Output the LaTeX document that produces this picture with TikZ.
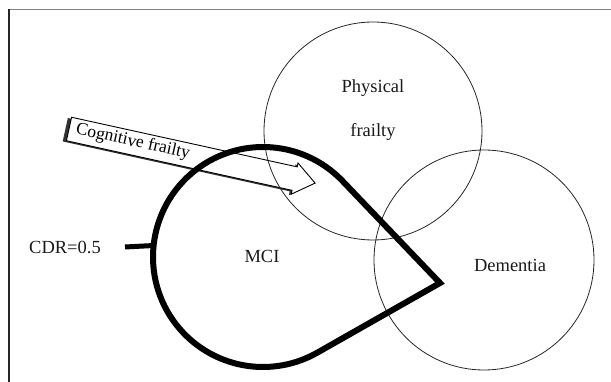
\documentclass[tikz,border=0pt]{standalone}
\usepackage{fontspec}
\setmainfont{Liberation Serif}
\usetikzlibrary{calc}
\begin{document}
\begin{tikzpicture}[x=1pt,y=1pt,
  ring/.style={draw=black!85, line width=0.8pt, circle, inner sep=0pt, outer sep=0pt},
  lbl/.style={font=\fontsize{18.5}{20}\selectfont, anchor=base, inner sep=0pt, text=black!90},
  mcil/.style={line width=6pt, line join=miter, miter limit=10},
  arrowbody/.style={draw=black, line width=0.9pt, fill=white},
  arrowshade/.style={fill=black!80}]
\useasboundingbox (0,0) rectangle (611,382);
% frame
\draw[black!50, line width=1.3pt] (9,372.5) -- (611,372.5);
\draw[black!85, line width=1.3pt] (9,373) -- (9,0);
% cognitive frailty block arrow
\begin{scope}[shift={(69,253)}, rotate=-12.4]
  \fill[arrowshade] (-3.5,10.5) -- (229,10.5) -- (229,14.5) -- (250,-1.5) -- (229,-17.5) -- (229,-13.5) -- (-3.5,-13.5) -- cycle;
  \draw[arrowbody] (0,12) -- (231,12) -- (231,16) -- (252,0) -- (231,-16) -- (231,-12) -- (0,-12) -- cycle;
  \node[font=\fontsize{17.5}{19}\selectfont, rotate=-12.4, anchor=west, inner sep=0pt] (cog) at (7,1) {Cognitive frailty};
\end{scope}
% circles
\node[ring, minimum size=218pt] (phys) at (373,251) {};
\node[ring, minimum size=220pt] (dem) at (484,122) {};
\node[circle, inner sep=0pt, outer sep=0pt, minimum size=220pt] (mci) at (263,125) {};
\coordinate (tip) at (440,99);
\draw[mcil] (tip) -- ([shift={(43.7:110)}]mci.center) arc[start angle=43.7, end angle=299.6, radius=110] -- cycle;
% labels
\node[lbl] (physl) at (373,289) {Physical};
\node[lbl] (frl) at (373,245) {frailty};
\node[lbl] (mcil) at (262,119) {MCI};
\node[lbl] (deml) at (510,110) {Dementia};
\node[lbl] (cdr) at (65,128) {CDR=0.5};
\coordinate (cdrtick) at (125,135);
\draw[line width=5pt] (cdrtick) -- (mci.174.8);
\end{tikzpicture}
\end{document}
